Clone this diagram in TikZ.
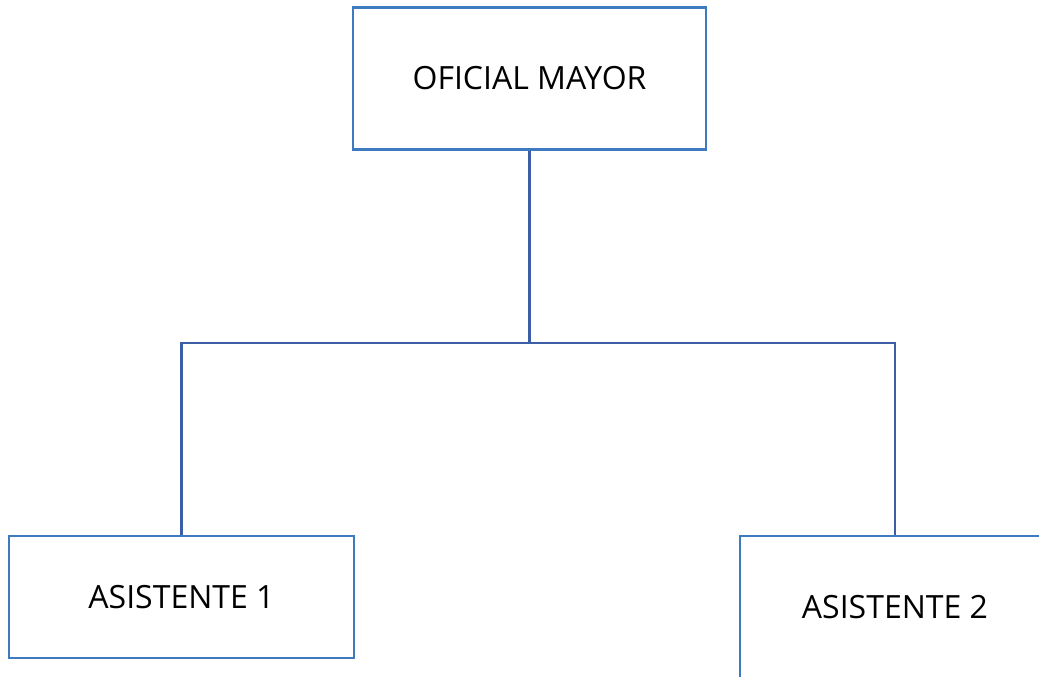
\documentclass[tikz,border=0pt]{standalone}
\usepackage{fontspec}
\setmainfont{Open Sans}
\definecolor{boxblue}{RGB}{62,122,192}
\definecolor{linkblue}{RGB}{60,94,166}
\begin{document}
\begin{tikzpicture}[x=1pt,y=-1pt,
  orgbox/.style={draw=boxblue, line width=2.8pt, fill=white, rectangle,
    inner sep=0pt, font=\fontsize{32}{38}\selectfont},
  link/.style={draw=linkblue, line width=2.8pt}]
  \useasboundingbox (0,0) rectangle (1039,677);
  \clip (0,0) rectangle (1039,677);
  % org chart boxes
  \node[orgbox, minimum width=353pt, minimum height=142pt] (top) at (529.5,78.5) {OFICIAL MAYOR};
  \node[orgbox, minimum width=345pt, minimum height=122pt] (a1) at (181.5,597) {ASISTENTE 1};
  \node[orgbox, minimum width=310pt, minimum height=142pt] (a2) at (895,607) {ASISTENTE 2};
  % branch line
  \coordinate (bus) at (529.5,343);
  \draw[link] (top.south) -- (top.south |- bus);
  \draw[link] (a1.north) -- (a1.north |- bus) -- (a2.north |- bus) -- (a2.north);
\end{tikzpicture}
\end{document}
